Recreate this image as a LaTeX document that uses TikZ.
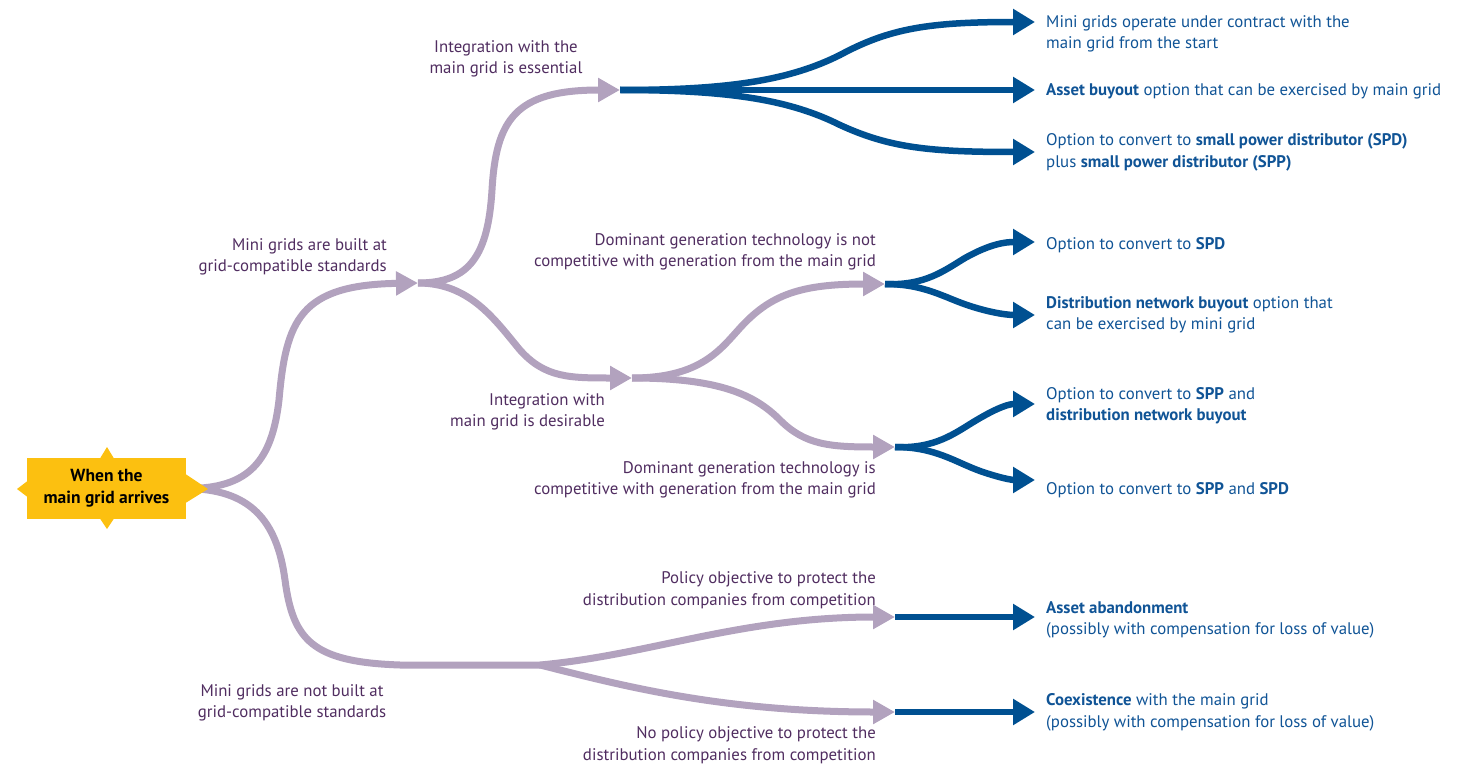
\documentclass[tikz,border=0pt]{standalone}
\usepackage{fontspec}
\setmainfont{PT Sans}
\usetikzlibrary{arrows.meta,backgrounds}
\definecolor{textpurple}{RGB}{80,45,96}
\definecolor{textblue}{RGB}{16,84,150}
\definecolor{lineblue}{RGB}{0,80,145}
\definecolor{linegray}{RGB}{178,162,190}
\definecolor{startyellow}{RGB}{252,192,16}
\begin{document}
\begin{tikzpicture}[x=1pt,y=-1pt,
  graybr/.style={draw=linegray, line width=7pt},
  grayarr/.style={graybr, -{Triangle[length=22pt,width=23pt]}},
  bluearr/.style={draw=lineblue, line width=6.5pt, -{Triangle[length=22pt,width=25pt]}},
  lbl/.style={font=\fontsize{16.8}{21.5}\selectfont, text=textpurple, inner sep=0pt},
  rlbl/.style={font=\fontsize{16.8}{21.5}\selectfont, text=textblue, inner sep=0pt, align=left, anchor=west},
  startbox/.style={fill=startyellow, inner sep=0pt, minimum width=159pt, minimum height=61pt,
     align=center, font=\fontsize{17.5}{22}\selectfont\bfseries, text=black}
]
\useasboundingbox (0,0) rectangle (1472,765);

% start node with spikes
\node[startbox] (start) at (106.5,488.5) {When the\\main grid arrives};
\fill[startyellow] (100,458.5) -- (107,447) -- (114,458.5) -- cycle;
\fill[startyellow] (100,518.5) -- (107,529) -- (114,518.5) -- cycle;
\fill[startyellow] (27.5,481) -- (17,489) -- (27.5,497) -- cycle;
\fill[startyellow] (185.5,474) -- (208,489) -- (185.5,503) -- cycle;

% hubs
\coordinate (A) at (418,283);
\coordinate (B) at (620,90);
\coordinate (C) at (632,378);
\coordinate (D) at (885,284);
\coordinate (E) at (895,447);
\coordinate (L) at (540,665);
\coordinate (P) at (895,617);
\coordinate (Q) at (895,712);
\coordinate (e1) at (1035,22);
\coordinate (e2) at (1035,90);
\coordinate (e3) at (1035,152);
\coordinate (e4) at (1035,242);
\coordinate (e5) at (1035,315);
\coordinate (e6) at (1035,404);
\coordinate (e7) at (1035,480);
\coordinate (e8) at (1035,617);
\coordinate (e9) at (1035,712);

\begin{pgfonlayer}{background}
% blue connectors
\draw[bluearr] (B) .. controls (730,90) and (790,80) .. (840,55) .. controls (890,28) and (930,22) .. (e1);
\draw[bluearr] (B) -- (e2);
\draw[bluearr] (B) .. controls (730,90) and (790,100) .. (840,125) .. controls (890,148) and (930,152) .. (e3);
\draw[bluearr] (D) .. controls (925,286) and (945,270) .. (965,258) .. controls (990,244) and (1005,242) .. (e4);
\draw[bluearr] (D) .. controls (925,284) and (945,298) .. (970,306) .. controls (995,314) and (1010,315) .. (e5);
\draw[bluearr] (E) .. controls (935,449) and (955,433) .. (975,421) .. controls (1000,406) and (1010,404) .. (e6);
\draw[bluearr] (E) .. controls (935,447) and (955,462) .. (980,471) .. controls (1000,478) and (1012,480) .. (e7);
\draw[bluearr] (P) -- (e8);
\draw[bluearr] (Q) -- (e9);
% gray connectors
\draw[grayarr] (start.east) .. controls (250,489) and (272,460) .. (279,400) .. controls (286,320) and (300,285) .. (A);
\draw[graybr] (start.east) .. controls (250,489) and (277,520) .. (285,580) .. controls (293,640) and (312,662) .. (400,665) -- (L);
\draw[grayarr] (A) .. controls (470,283) and (488,255) .. (492,190) .. controls (496,120) and (515,90) .. (B);
\draw[grayarr] (A) .. controls (470,283) and (495,320) .. (520,350) .. controls (545,378) and (570,378) .. (C);
\draw[grayarr] (C) .. controls (700,378) and (720,350) .. (740,328) .. controls (770,295) and (800,284) .. (D);
\draw[grayarr] (C) .. controls (720,378) and (755,395) .. (780,420) .. controls (805,445) and (830,447) .. (E);
\draw[grayarr] (L) .. controls (650,655) and (740,617) .. (P);
\draw[grayarr] (L) .. controls (620,685) and (720,712) .. (Q);
\end{pgfonlayer}

% left / middle labels
\node[lbl, align=center] (t1) at (506,59) {Integration with the\\main grid is essential};
\node[lbl, align=right, anchor=east] (t2) at (387,257) {Mini grids are built at\\grid-compatible standards};
\node[lbl, align=right, anchor=east] (t3) at (876,252) {Dominant generation technology is not\\competitive with generation from the main grid};
\node[lbl, align=right, anchor=east] (t4) at (605,412) {Integration with\\main grid is desirable};
\node[lbl, align=right, anchor=east] (t5) at (876,480) {Dominant generation technology is\\competitive with generation from the main grid};
\node[lbl, align=right, anchor=east] (t6) at (876,590) {Policy objective to protect the\\distribution companies from competition};
\node[lbl, align=center] (t7) at (292,703) {Mini grids are not built at\\grid-compatible standards};
\node[lbl, align=right, anchor=east] (t8) at (876,745) {No policy objective to protect the\\distribution companies from competition};

% right outcome labels
\node[rlbl] (r1) at (1046,34) {Mini grids operate under contract with the\\main grid from the start};
\node[rlbl] (r2) at (1046,91) {\textbf{Asset buyout} option that can be exercised by main grid};
\node[rlbl] (r3) at (1046,152.5) {Option to convert to \textbf{small power distributor (SPD)}\\plus \textbf{small power distributor (SPP)}};
\node[rlbl] (r4) at (1046,245) {Option to convert to \textbf{SPD}};
\node[rlbl] (r5) at (1046,315) {\textbf{Distribution network buyout} option that\\can be exercised by mini grid};
\node[rlbl] (r6) at (1046,405.5) {Option to convert to \textbf{SPP} and\\\textbf{distribution network buyout}};
\node[rlbl] (r7) at (1046,490) {Option to convert to \textbf{SPP} and \textbf{SPD}};
\node[rlbl] (r8) at (1046,620) {\textbf{Asset abandonment}\\(possibly with compensation for loss of value)};
\node[rlbl] (r9) at (1046,712.5) {\textbf{Coexistence} with the main grid\\(possibly with compensation for loss of value)};
\end{tikzpicture}
\end{document}
